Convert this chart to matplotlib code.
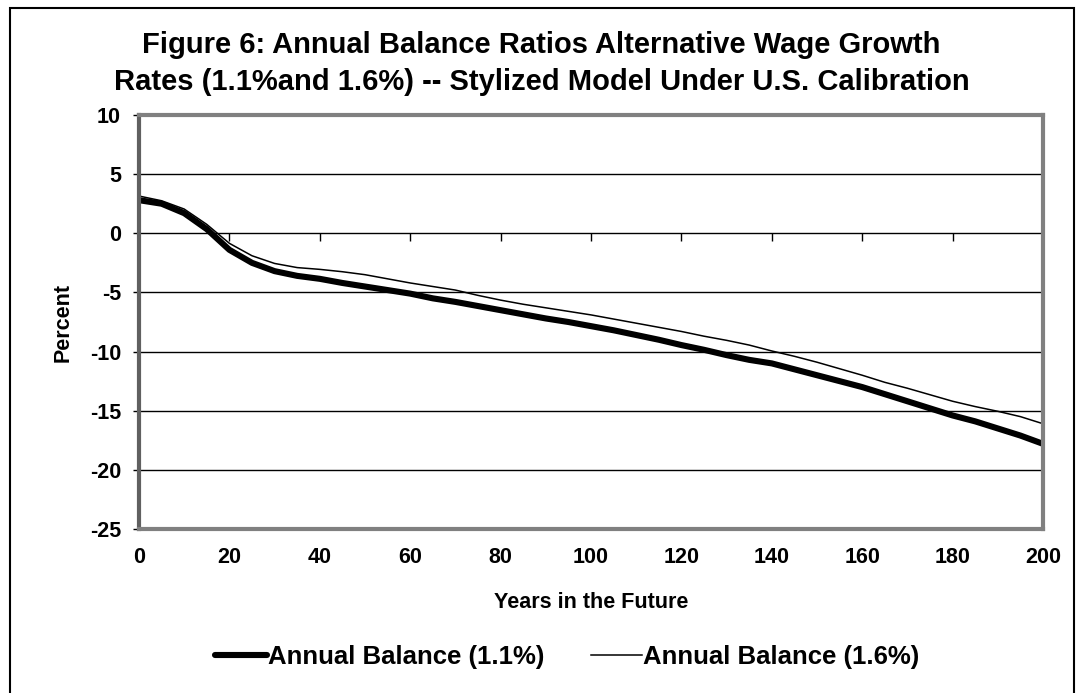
import matplotlib
matplotlib.use("Agg")
from matplotlib import pyplot as plt
from matplotlib.patches import Rectangle

years = list(range(0, 201, 5))
balance_11 = [2.8, 2.5, 1.7, 0.35, -1.4, -2.5, -3.2, -3.6, -3.85, -4.2,
              -4.5, -4.8, -5.1, -5.5, -5.8, -6.15, -6.5, -6.85, -7.2, -7.5,
              -7.85, -8.2, -8.6, -9.0, -9.45, -9.85, -10.3, -10.7, -11.0, -11.5,
              -12.0, -12.5, -13.0, -13.6, -14.2, -14.8, -15.4, -15.9, -16.5, -17.1,
              -17.8]
balance_16 = [3.15, 2.75, 2.05, 0.75, -0.85, -1.9, -2.55, -2.9, -3.05, -3.25,
              -3.5, -3.85, -4.2, -4.5, -4.8, -5.25, -5.65, -6.0, -6.3, -6.6,
              -6.9, -7.25, -7.6, -7.95, -8.3, -8.7, -9.05, -9.45, -9.95, -10.4,
              -10.9, -11.45, -12.0, -12.6, -13.1, -13.65, -14.2, -14.65, -15.05, -15.5,
              -16.1]
x_ticks = list(range(0, 201, 20))
y_ticks = list(range(-25, 11, 5))
title = ("Figure 6: Annual Balance Ratios Alternative Wage Growth\n"
         "Rates (1.1%and 1.6%) -- Stylized Model Under U.S. Calibration")

plt.rcParams['font.family'] = ['Liberation Sans', 'DejaVu Sans']
plt.rcParams['font.weight'] = 'bold'
plt.rcParams['axes.unicode_minus'] = False

fig = plt.figure(figsize=(10.83, 6.93), dpi=100)
W, H = 1083, 693
ax = fig.add_axes([139 / W, 1 - 529 / H, (1043 - 139) / W, (529 - 115) / H])

# outer chart border (runs off the bottom of the image)
fig.patches.append(Rectangle((10 / W, -0.1), (1074 - 10) / W, 1.1 - 8 / H,
                             transform=fig.transFigure, fill=False,
                             edgecolor='black', lw=1.5, clip_on=False))

ax.set_xlim(0, 200)
ax.set_ylim(-25, 10)
ax.set_yticks(y_ticks)
ax.set_xticks(x_ticks)
ax.yaxis.grid(True, color='black', lw=1)
ax.set_axisbelow(True)

for side in ['top', 'right', 'bottom', 'left']:
    ax.spines[side].set_color('#808080')
    ax.spines[side].set_linewidth(3)
ax.spines['left'].set_color('#606060')

ax.tick_params(axis='y', direction='out', length=4.5, width=1, color='black',
               pad=8.5, labelsize=15.5)
ax.tick_params(axis='x', length=0, pad=13, labelsize=15.5)
for lab in ax.get_xticklabels() + ax.get_yticklabels():
    lab.set_fontweight('bold')

# category axis crosses at zero, tick marks sit on that line
ax.plot(x_ticks, [0] * len(x_ticks), linestyle='none', marker=3, ms=6,
        mew=1, color='black', clip_on=False)

ax.plot(years, balance_11, color='black', lw=4.4, solid_capstyle='round',
        label='Annual Balance (1.1%)')
ax.plot(years, balance_16, color='black', lw=1.1,
        label='Annual Balance (1.6%)')

ax.set_xlabel('Years in the Future', fontsize=15.5, fontweight='bold')
ax.xaxis.set_label_coords(0.5, -(602 - 529) / 414)
ax.xaxis.label.set_va('center')
ax.set_ylabel('Percent', fontsize=15.5, fontweight='bold')
ax.yaxis.set_label_coords((63 - 139) / 904, 0.5)
ax.yaxis.label.set_va('center')

fig.text(0.5, 1 - 63.5 / H, title, ha='center', va='center', fontsize=21,
         fontweight='bold', linespacing=1.38)

handles, labels = ax.get_legend_handles_labels()
fig.legend(handles, labels, loc='center', bbox_to_anchor=(0.524, 1 - 657 / H),
           ncol=2, frameon=False, handlelength=2.0, handletextpad=0.05,
           columnspacing=1.8, prop={'size': 18.5, 'weight': 'bold'})

fig.savefig('out.png', dpi=100)
